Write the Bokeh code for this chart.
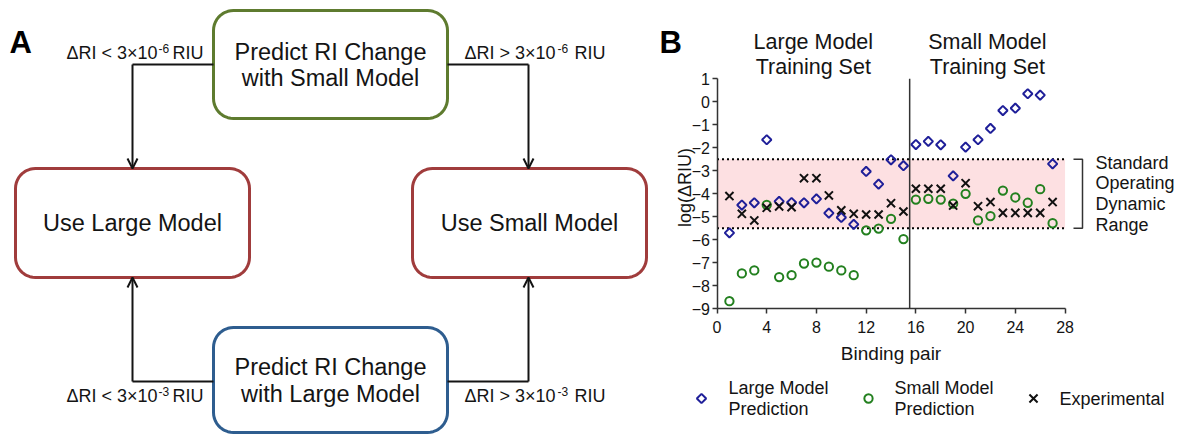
import numpy as np
from bokeh.plotting import figure
from bokeh.models import Range1d, LinearAxis, FixedTicker, Arrow, OpenHead
from bokeh.layouts import row
from bokeh.core.properties import value
from bokeh.embed import file_html
from bokeh.resources import INLINE

# ---------------- data (panel B) ----------------
binding_pair = list(range(1, 28))
large_model = [-5.70, -4.49, -4.39, -1.65, -4.33, -4.38, -4.39, -4.22, -4.84, -5.03,
               -5.33, -3.03, -3.58, -2.52, -2.78, -1.86, -1.72, -1.87, -3.22, -1.97,
               -1.65, -1.16, -0.38, -0.28, 0.35, 0.29, -2.70]
small_model = [-8.67, -7.46, -7.33, -4.48, -7.62, -7.54, -7.03, -6.99, -7.17, -7.33,
               -7.54, -5.59, -5.51, -5.09, -5.97, -4.25, -4.22, -4.25, -4.43, -4.00,
               -5.16, -4.97, -3.86, -4.16, -4.39, -3.80, -5.28]
experimental = [-4.10, -4.87, -5.16, -4.61, -4.55, -4.58, -3.32, -3.32, -4.07, -4.72,
                -4.87, -4.90, -4.90, -4.41, -4.77, -3.78, -3.78, -3.78, -4.51, -3.54,
                -4.54, -4.36, -4.83, -4.83, -4.83, -4.83, -4.36]
x_ticks = [0, 4, 8, 12, 16, 20, 24, 28]
y_ticks = [-9, -8, -7, -6, -5, -4, -3, -2, -1, 0, 1]
x_limits = (0, 28)
y_limits = (-9, 1)
band_low, band_high = -5.5, -2.5
training_split = 15.5
series_labels = [["Large Model", "Prediction"], ["Small Model", "Prediction"], ["Experimental"]]
panel_titles = [["Large Model", "Training Set"], ["Small Model", "Training Set"]]
band_label = ["Standard", "Operating", "Dynamic", "Range"]

FONT = value("Liberation Sans")
INK = "#141414"
C_LARGE = "#1f1f99"
C_SMALL = "#23801f"
C_EXP = "#111111"

H = 434
W_A = 650
W_B = 1177 - W_A

# ---------------- panel A: flowchart ----------------
pa = figure(width=W_A, height=H, x_range=Range1d(0, W_A), y_range=Range1d(H, 0),
            output_backend="svg", toolbar_location=None, x_axis_type=None,
            y_axis_type=None, min_border=0, outline_line_color=None)
pa.grid.visible = False


def rrect(x0, y0, x1, y1, r, n=12):
    xs, ys = [], []
    for cx, cy, a0 in [(x1 - r, y0 + r, -90), (x1 - r, y1 - r, 0),
                       (x0 + r, y1 - r, 90), (x0 + r, y0 + r, 180)]:
        for t in np.linspace(a0, a0 + 90, n):
            xs.append(cx + r * np.cos(np.radians(t)))
            ys.append(cy + r * np.sin(np.radians(t)))
    return xs, ys


boxes = [
    (213, 10, 447, 118, "#5e7b2f"),
    (15, 168, 249, 277, "#a03c3c"),
    (412, 168, 646, 277, "#a03c3c"),
    (213, 327, 447, 432, "#2e5d8f"),
]
for x0, y0, x1, y1, c in boxes:
    xs, ys = rrect(x0, y0, x1, y1, 20)
    pa.patch(xs, ys, fill_color="white", line_color=c, line_width=3, line_join="round")

# connectors
for (hx0, hx1, hy, vy_end) in [(213, 132, 64, 168), (447, 528, 64, 168),
                               (213, 132, 381, 277), (447, 528, 381, 277)]:
    pa.line([hx0, hx1], [hy, hy], line_color=INK, line_width=2)
    pa.add_layout(Arrow(end=OpenHead(size=10, line_width=2, line_color=INK),
                        x_start=hx1, y_start=hy, x_end=hx1, y_end=vy_end,
                        line_color=INK, line_width=2))

pa.text(x=[330, 330, 330, 330, 132, 529],
        y=[51, 77, 366, 393, 222, 222],
        text=["Predict RI Change", "with Small Model", "Predict RI Change",
              "with Large Model", "Use Large Model", "Use Small Model"],
        text_font=FONT, text_font_size="23.5px", text_align="center",
        text_baseline="middle", text_color=INK)

# threshold labels: main part, superscript exponent, unit
thresholds = [("<", "-6", 52, "L"), (">", "-6", 52, "R"), ("<", "-3", 395, "L"), (">", "-3", 395, "R")]
for op, ex, ly0, side in thresholds:
    if side == "L":
        x_main_end, x_sup, x_unit, unit_align = 157, 158, 203, "right"
    else:
        x_main_end, x_sup, x_unit, unit_align = 555, 557, 605, "right"
    pa.text(x=[x_main_end], y=[ly0], text=[f"ΔRI {op} 3×10"], text_font=FONT,
            text_font_size="18px", text_align="right", text_baseline="middle",
            text_color=INK)
    pa.text(x=[x_sup], y=[ly0 - 4], text=[ex], text_font=FONT,
            text_font_size="12px", text_align="left", text_baseline="middle",
            text_color=INK)
    pa.text(x=[x_unit], y=[ly0], text=["RIU"], text_font=FONT,
            text_font_size="18px", text_align=unit_align, text_baseline="middle",
            text_color=INK)

pa.text(x=[9], y=[42], text=["A"], text_font=FONT, text_font_size="31px",
        text_font_style="bold", text_align="left", text_baseline="middle",
        text_color="black")

# ---------------- panel B: scatter ----------------
AX_X0 = 716.5 - W_A     # px inside figure where x = x_limits[0]
PX_X = 12.43            # px per x unit
AX_YT = 78.3            # px from top where y = y_limits[1]
PX_Y = 23.0             # px per y unit

xr = Range1d(x_limits[0] - AX_X0 / PX_X, x_limits[0] + (W_B - AX_X0) / PX_X)
yr = Range1d(y_limits[1] - (H - AX_YT) / PX_Y, y_limits[1] + AX_YT / PX_Y)


def bx(px_abs):
    return x_limits[0] + (px_abs - W_A - AX_X0) / PX_X


def by(py):
    return y_limits[1] - (py - AX_YT) / PX_Y


pb = figure(width=W_B, height=H, x_range=xr, y_range=yr, output_backend="svg",
            toolbar_location=None, x_axis_type=None, y_axis_type=None,
            min_border=0, outline_line_color=None)
pb.grid.visible = False

# operating band
pb.quad(left=[x_limits[0]], right=[x_limits[1]], bottom=[band_low], top=[band_high],
        fill_color="#fde0e2", line_color=None)
pb.segment(x0=[x_limits[0]] * 2, x1=[x_limits[1]] * 2, y0=[band_high, band_low],
           y1=[band_high, band_low], line_color="black", line_width=2, line_dash="2 3")
pb.segment(x0=[training_split], x1=[training_split], y0=[y_limits[0]], y1=[y_limits[1]],
           line_color="#333333", line_width=1.5)

DIA = dict(marker="square", angle=np.pi / 4, size=6.6, fill_color=None,
           line_color=C_LARGE, line_width=2)
CIR = dict(marker="circle", size=8.3, fill_color=None, line_color=C_SMALL, line_width=2)
XMK = dict(marker="x", size=11.5, line_color=C_EXP, line_width=2)

# series
pb.scatter(binding_pair, large_model, **DIA)
pb.scatter(binding_pair, small_model, **CIR)
pb.scatter(binding_pair, experimental, **XMK)

axis_kw = dict(axis_line_color="#333333", axis_line_width=1.5,
               major_tick_line_color="#333333", major_tick_line_width=1.5,
               major_tick_out=5, major_tick_in=0, minor_tick_out=0, minor_tick_in=0,
               major_label_text_font="Liberation Sans", major_label_text_font_size="16px",
               major_label_text_color=INK)
xa = LinearAxis(fixed_location=y_limits[0], bounds=x_limits,
                ticker=FixedTicker(ticks=x_ticks), major_label_standoff=7, **axis_kw)
ya = LinearAxis(fixed_location=x_limits[0], bounds=y_limits,
                ticker=FixedTicker(ticks=y_ticks), major_label_standoff=2, **axis_kw)
pb.add_layout(xa, "below")
pb.add_layout(ya, "left")

# axis labels
pb.text(x=[(x_limits[0] + x_limits[1]) / 2], y=[by(353)], text=["Binding pair"],
        text_font=FONT, text_font_size="19px", text_align="center",
        text_baseline="middle", text_color=INK)
pb.text(x=[bx(684)], y=[by(187)], text=["log(ΔRIU)"], angle=np.pi / 2,
        text_font=FONT, text_font_size="18px", text_align="center",
        text_baseline="middle", text_color=INK)

# panel titles
mid_left = (x_limits[0] + training_split) / 2
mid_right = (training_split + x_limits[1]) / 2
pb.text(x=[mid_left, mid_left, mid_right, mid_right],
        y=[by(41), by(66), by(41), by(66)],
        text=[panel_titles[0][0], panel_titles[0][1], panel_titles[1][0], panel_titles[1][1]],
        text_font=FONT, text_font_size="21.5px", text_align="center",
        text_baseline="middle", text_color=INK)

# bracket + label
bk0, bk1 = bx(1073), bx(1082)
pb.line([bk0, bk1, bk1, bk0], [band_high, band_high, band_low, band_low],
        line_color="#333333", line_width=1.5)
mid_band = (band_low + band_high) / 2
step = 20.7 / PX_Y
pb.text(x=[bx(1095)] * 4,
        y=[mid_band + 1.5 * step, mid_band + 0.5 * step, mid_band - 0.5 * step, mid_band - 1.5 * step],
        text=band_label, text_font=FONT, text_font_size="18px", text_align="left",
        text_baseline="middle", text_color=INK)

# panel letter
pb.text(x=[bx(659)], y=[by(42)], text=["B"], text_font=FONT, text_font_size="31px",
        text_font_style="bold", text_align="left", text_baseline="middle",
        text_color="black")

# legend
ly = by(398)
lh = 10.5 / PX_Y
pb.scatter([bx(701)], [ly], **DIA)
pb.scatter([bx(868)], [ly], **CIR)
pb.scatter([bx(1033)], [ly], **XMK)
pb.text(x=[bx(728), bx(728), bx(894), bx(894), bx(1059)],
        y=[ly + lh, ly - lh, ly + lh, ly - lh, ly],
        text=[series_labels[0][0], series_labels[0][1], series_labels[1][0],
              series_labels[1][1], series_labels[2][0]],
        text_font=FONT, text_font_size="18px", text_align="left",
        text_baseline="middle", text_color=INK)

layout = row(pa, pb)
open("out.html", "w").write(file_html(layout, INLINE))
